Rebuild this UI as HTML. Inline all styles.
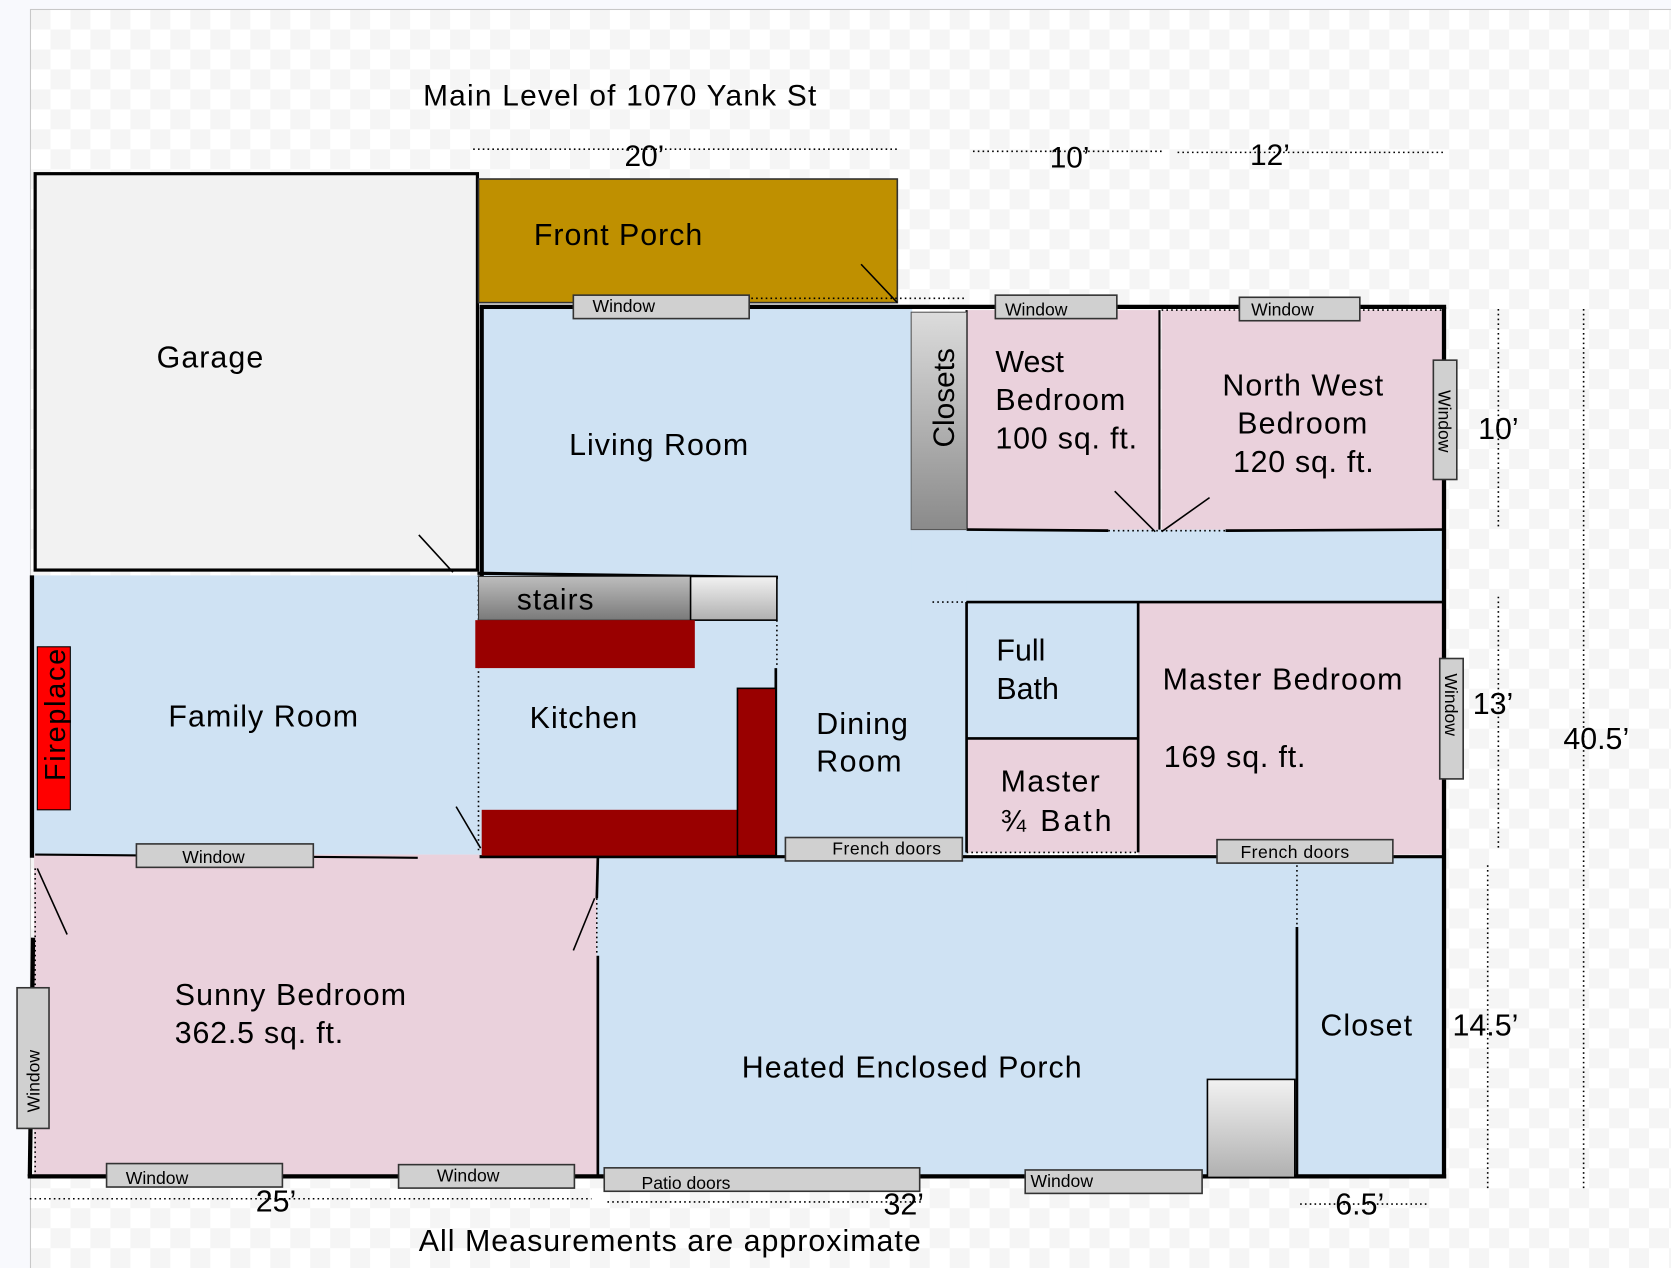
<!DOCTYPE html>
<html><head><style>html,body{margin:0;padding:0;background:#f8f9fd;}svg{display:block}text{font-family:"Liberation Sans",sans-serif;fill:#000}</style></head>
<body>
<svg width="1671" height="1268" viewBox="0 0 1568 1190" preserveAspectRatio="none" xmlns="http://www.w3.org/2000/svg">
<defs>
<pattern id="chk" x="28.6" y="8.9" width="37.5" height="37.5" patternUnits="userSpaceOnUse">
<rect width="37.5" height="37.5" fill="#fff"/><rect width="18.75" height="18.75" fill="#f5f5f5"/><rect x="18.75" y="18.75" width="18.75" height="18.75" fill="#f5f5f5"/>
</pattern>
<linearGradient id="gv" x1="0" y1="0" x2="0" y2="1"><stop offset="0" stop-color="#dcdcdc"/><stop offset="1" stop-color="#8a8a8a"/></linearGradient>
<linearGradient id="gl" x1="0" y1="0" x2="0" y2="1"><stop offset="0" stop-color="#f2f2f2"/><stop offset="1" stop-color="#b0b0b0"/></linearGradient>
<linearGradient id="gs" x1="0" y1="0" x2="0" y2="1"><stop offset="0" stop-color="#bdbdbd"/><stop offset="1" stop-color="#7a7a7a"/></linearGradient>
</defs>
<rect x="28.6" y="8.9" width="1540" height="1182" fill="url(#chk)" stroke="#c8c8c8" stroke-width="1"/>

<text x="397" y="99" font-size="28" textLength="369">Main Level of 1070 Yank St</text>
<g stroke="#000" stroke-width="1.5" stroke-dasharray="1.5 3" fill="none">
<line x1="444" y1="140" x2="843" y2="140"/><line x1="913" y1="142" x2="1092" y2="142"/><line x1="1105" y1="143" x2="1356" y2="143"/>
<line x1="1406" y1="290" x2="1406" y2="497"/><line x1="1406" y1="560" x2="1406" y2="797"/>
<line x1="1486" y1="290" x2="1486" y2="1118"/><line x1="1396" y1="812" x2="1396" y2="1118"/>
<line x1="28" y1="1125" x2="555" y2="1125"/><line x1="570" y1="1128" x2="867" y2="1128"/><line x1="1220" y1="1130" x2="1340" y2="1130"/>
</g>
<text x="586" y="156" font-size="28">20’</text><text x="985" y="157" font-size="28">10’</text><text x="1173" y="155" font-size="28">12’</text>

<rect x="33" y="163" width="415" height="372" fill="#f2f2f2" stroke="#000" stroke-width="3"/>
<rect x="449" y="168" width="393" height="116" fill="#bf9000" stroke="#333" stroke-width="1.5"/>
<g fill="#cfe2f3">
<rect x="452" y="288" width="404" height="254"/>
<rect x="855" y="497" width="500" height="68"/>
<rect x="728" y="540" width="179" height="265"/>
<rect x="449" y="540" width="280" height="265"/>
<rect x="32" y="540" width="418" height="262"/>
<rect x="907" y="565" width="161" height="128"/>
<rect x="560" y="805" width="795" height="299"/>
</g>
<g fill="#ead1dc">
<rect x="907" y="291" width="181" height="206"/>
<rect x="1090" y="291" width="265" height="206"/>
<rect x="1068" y="565" width="287" height="237"/>
<rect x="907" y="693" width="161" height="107"/>
<rect x="32" y="802" width="528" height="301"/>
</g>

<g stroke="#000" fill="none">
<line x1="450" y1="288" x2="1357" y2="288" stroke-width="4"/>
<line x1="1355" y1="288" x2="1355" y2="1106" stroke-width="4"/>
<line x1="26" y1="1104" x2="1357" y2="1104" stroke-width="4"/>
<line x1="30" y1="540" x2="30" y2="805" stroke-width="4"/>
<line x1="31" y1="880" x2="28" y2="1104" stroke-width="4"/>
<line x1="452" y1="288" x2="452" y2="541" stroke-width="4"/>
<line x1="448" y1="538" x2="730" y2="542" stroke-width="3"/>
<line x1="907" y1="291" x2="907" y2="497" stroke-width="2"/>
<line x1="1088" y1="291" x2="1088" y2="497" stroke-width="2"/>
<line x1="907" y1="497" x2="1040" y2="498" stroke-width="2.5"/>
<line x1="1150" y1="498" x2="1355" y2="497" stroke-width="2.5"/>
<line x1="907" y1="565" x2="1355" y2="565" stroke-width="2.5"/>
<line x1="907" y1="565" x2="907" y2="800" stroke-width="2.5"/>
<line x1="1068" y1="565" x2="1068" y2="800" stroke-width="2.5"/>
<line x1="907" y1="693" x2="1068" y2="693" stroke-width="2.5"/>
<line x1="728" y1="627" x2="728" y2="805" stroke-width="2.5"/>
<line x1="450" y1="804" x2="1355" y2="804" stroke-width="3"/>
<line x1="33" y1="802" x2="392" y2="805" stroke-width="2"/>
<line x1="561" y1="805" x2="560" y2="843" stroke-width="2.5"/>
<line x1="561" y1="897" x2="561" y2="1104" stroke-width="2.5"/>
<line x1="1217" y1="870" x2="1217" y2="1104" stroke-width="2.5"/>
</g>
<g stroke="#000" stroke-width="1.5" stroke-dasharray="1.5 3" fill="none">
<line x1="705" y1="280" x2="907" y2="280"/><line x1="449" y1="540" x2="449" y2="800"/>
<line x1="729" y1="582" x2="729" y2="627"/><line x1="875" y1="565" x2="907" y2="565"/>
<line x1="1217" y1="812" x2="1217" y2="870"/><line x1="33" y1="815" x2="33" y2="1100"/>
<line x1="560" y1="843" x2="560" y2="897"/><line x1="1040" y1="498" x2="1150" y2="498"/>
<line x1="907" y1="800" x2="1068" y2="800"/><line x1="1090" y1="291" x2="1355" y2="291"/>
</g>
<g stroke="#000" stroke-width="1.5">
<line x1="393" y1="502" x2="425" y2="537"/><line x1="808" y1="248" x2="842" y2="284"/>
<line x1="1046" y1="461" x2="1084" y2="499"/><line x1="1090" y1="499" x2="1135" y2="467"/>
<line x1="428" y1="757" x2="451" y2="796"/><line x1="35" y1="815" x2="63" y2="877"/>
<line x1="558" y1="843" x2="538" y2="892"/>
</g>

<rect x="855" y="293" width="52" height="204" fill="url(#gv)" stroke="#555"/>
<text transform="translate(895,420) rotate(-90)" font-size="28">Closets</text>
<rect x="449" y="541" width="199" height="41" fill="url(#gs)" stroke="#333"/>
<rect x="648" y="541" width="81" height="41" fill="url(#gl)" stroke="#000" stroke-width="1.5"/>
<rect x="446" y="582" width="206" height="45" fill="#990000"/>
<rect x="452" y="760" width="276" height="43" fill="#990000"/>
<rect x="692" y="646" width="36" height="157" fill="#990000" stroke="#000" stroke-width="1.5"/>
<text x="485" y="572" font-size="28" textLength="72">stairs</text>
<rect x="35" y="607" width="31" height="153" fill="#ff0000" stroke="#000"/>
<text transform="translate(61,733) rotate(-90)" font-size="27" textLength="124">Fireplace</text>
<rect x="1133" y="1013" width="82" height="92" fill="url(#gl)" stroke="#000" stroke-width="1.5"/>

<g fill="#d0d0d0" stroke="#333" stroke-width="1.5">
<rect x="538" y="277" width="165" height="22"/><rect x="934" y="277" width="114" height="22"/>
<rect x="1163" y="279" width="113" height="22"/><rect x="1345" y="338" width="22" height="112"/>
<rect x="1351" y="618" width="22" height="113"/><rect x="16" y="927" width="30" height="132"/>
<rect x="128" y="792" width="166" height="22"/><rect x="100" y="1092" width="165" height="22"/>
<rect x="374" y="1093" width="165" height="22"/><rect x="567" y="1096" width="296" height="22"/>
<rect x="962" y="1098" width="166" height="22"/><rect x="737" y="786" width="166" height="22"/>
<rect x="1142" y="788" width="165" height="22"/>
</g>
<g font-size="16.5">
<text x="556" y="293">Window</text><text x="943" y="296">Window</text><text x="1174" y="296">Window</text>
<text transform="translate(1350,366) rotate(90)">Window</text><text transform="translate(1356,632) rotate(90)">Window</text>
<text transform="translate(37,1044) rotate(-90)">Window</text>
<text x="171" y="810">Window</text><text x="118" y="1111">Window</text><text x="410" y="1109">Window</text>
<text x="602" y="1116">Patio doors</text><text x="967" y="1114">Window</text>
<text x="781" y="802" textLength="102">French doors</text><text x="1164" y="805" textLength="102">French doors</text>
</g>

<g font-size="28.5">
<text x="147" y="345" textLength="100">Garage</text><text x="501" y="230" textLength="158">Front Porch</text>
<text x="534" y="427" textLength="168">Living Room</text>
<text x="934" y="349">West</text><text x="934" y="385" textLength="122">Bedroom</text><text x="934" y="421" textLength="133">100 sq. ft.</text>
<text x="1147" y="371" textLength="151">North West</text><text x="1161" y="407" textLength="122">Bedroom</text><text x="1157" y="443" textLength="132">120 sq. ft.</text>
<text x="158" y="682" textLength="178">Family Room</text><text x="497" y="683" textLength="101">Kitchen</text>
<text x="766" y="689" textLength="86">Dining</text><text x="766" y="724" textLength="80">Room</text>
<text x="935" y="620">Full</text><text x="935" y="656">Bath</text>
<text x="939" y="743" textLength="93">Master</text><text x="939" y="780" textLength="104">¾  Bath</text>
<text x="1091" y="647" textLength="225">Master Bedroom</text><text x="1092" y="720" textLength="133">169 sq. ft.</text>
<text x="164" y="943" textLength="217">Sunny Bedroom</text><text x="164" y="979" textLength="158">362.5 sq. ft.</text>
<text x="696" y="1011" textLength="319">Heated Enclosed Porch</text><text x="1239" y="972" textLength="86">Closet</text>
<text x="1387" y="412">10’</text><text x="1382" y="670">13’</text><text x="1467" y="703">40.5’</text>
<text x="1363" y="972">14.5’</text><text x="240" y="1137">25’</text><text x="829" y="1140">32’</text>
<text x="1253" y="1140">6.5’</text>
<text x="393" y="1174" textLength="471">All Measurements are approximate</text>
</g>
</svg>
</body></html>
